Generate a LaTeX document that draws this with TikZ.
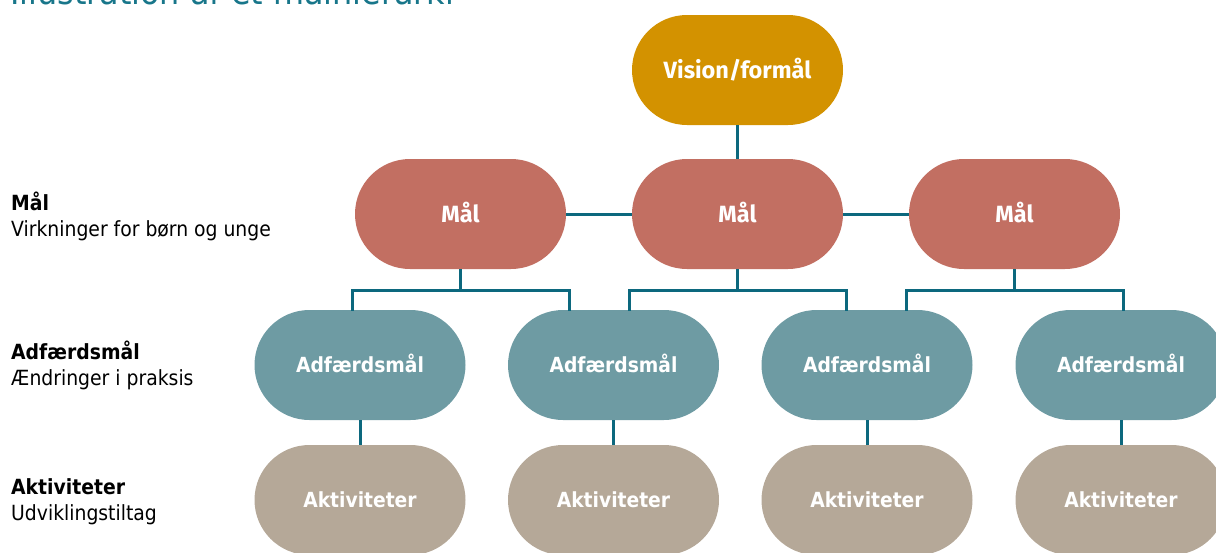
\documentclass[tikz,border=0pt]{standalone}
\usepackage{fontspec}
\setmainfont{DejaVu Sans Condensed}
\newfontfamily\firafont{Fira Sans}
\definecolor{visioncol}{RGB}{211,146,0}
\definecolor{malcol}{RGB}{194,111,98}
\definecolor{adfcol}{RGB}{110,155,163}
\definecolor{aktcol}{RGB}{181,168,152}
\definecolor{linecol}{RGB}{12,104,126}
\definecolor{titlecol}{RGB}{24,118,138}
\tikzset{
  pill/.style={rectangle, rounded corners=55pt, minimum width=211pt, minimum height=110pt,
    inner sep=0pt, text=white, text depth=0pt},
  visionbox/.style={pill, fill=visioncol, font=\firafont\bfseries\fontsize{23.5}{26}\selectfont, text height=16.4pt},
  malbox/.style={pill, fill=malcol, font=\firafont\bfseries\fontsize{23.5}{26}\selectfont, text height=16.4pt},
  adfbox/.style={pill, fill=adfcol, font=\bfseries\fontsize{20.8}{24}\selectfont, text height=15pt},
  aktbox/.style={pill, fill=aktcol, font=\bfseries\fontsize{20.8}{24}\selectfont, text height=15pt},
  conn/.style={draw=linecol, line width=3pt},
  sidelabel/.style={anchor=base west, align=left, inner sep=0pt, font=\fontsize{20.9}{25.5}\selectfont},
}
\begin{document}
\begin{tikzpicture}[x=1pt,y=-1pt]
\useasboundingbox (0,0) rectangle (1216,552);
\clip (0,0) rectangle (1216,552);
% title (cut off at top, as in the reference)
\node[anchor=base west, inner sep=0pt, text=titlecol, font=\fontsize{35.4}{40}\selectfont] (title) at (10,4.5) {Illustration af et målhierarki};
% side labels (anchored at the baseline of the second line)
\node[sidelabel] (lmal) at (11,236) {\textbf{Mål}\\Virkninger for børn og unge};
\node[sidelabel] (ladf) at (11,385) {\textbf{Adfærdsmål}\\Ændringer i praksis};
\node[sidelabel] (lakt) at (11,520) {\textbf{Aktiviteter}\\Udviklingstiltag};
% boxes
\node[visionbox] (V) at (737.5,70) {Vision/formål};
\node[malbox] (M1) at (460.5,214) {Mål};
\node[malbox] (M2) at (737.5,214) {Mål};
\node[malbox] (M3) at (1014.5,214) {Mål};
\node[adfbox] (A1) at (360,365) {Adfærdsmål};
\node[adfbox] (A2) at (613.5,365) {Adfærdsmål};
\node[adfbox] (A3) at (867,365) {Adfærdsmål};
\node[adfbox] (A4) at (1121,365) {Adfærdsmål};
\node[aktbox] (K1) at (360,500) {Aktiviteter};
\node[aktbox] (K2) at (613.5,500) {Aktiviteter};
\node[aktbox] (K3) at (867,500) {Aktiviteter};
\node[aktbox] (K4) at (1121,500) {Aktiviteter};
% connectors
\draw[conn] (V.south) -- (M2.north);
\draw[conn] (M1.east) -- (M2.west);
\draw[conn] (M2.east) -- (M3.west);
\foreach \m/\a/\b in {M1/A1/A2, M2/A2/A3, M3/A3/A4}{
  \coordinate (\m c) at ([yshift=-21pt]\m.south);
  \coordinate (\m l) at ([xshift=-108.5pt,yshift=-21pt]\m.south);
  \coordinate (\m r) at ([xshift=108.5pt,yshift=-21pt]\m.south);
  \draw[conn] (\m.south) -- (\m c);
  \draw[conn, line cap=rect] (\m l |- \a.north) -- (\m l) -- (\m r) -- (\m r |- \b.north);
}
\foreach \i in {1,2,3,4}{
  \draw[conn] (A\i.south) -- (K\i.north);
}
\end{tikzpicture}
\end{document}
